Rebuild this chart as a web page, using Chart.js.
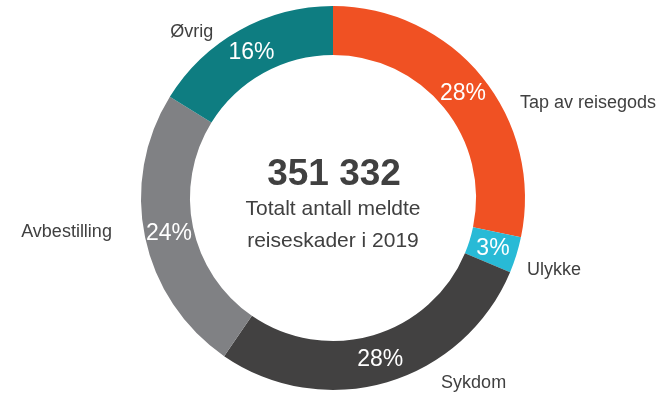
<!DOCTYPE html>
<html>
<head>
<meta charset="utf-8">
<script src="https://cdn.jsdelivr.net/npm/chart.js@4/dist/chart.umd.min.js"></script>
<style>
  html, body { margin: 0; padding: 0; background: #ffffff; }
  #wrap { width: 661px; height: 394px; position: relative; }
</style>
</head>
<body>
<div id="wrap"><canvas id="chart"></canvas></div>
<script>
// Reported travel claims 2019, share by cause (percent)
const categories = ['Tap av reisegods', 'Ulykke', 'Sykdom', 'Avbestilling', 'Øvrig'];
const shares = [28, 3, 28, 24, 16];
const totalClaims = '351 332';
const centerCaption = ['Totalt antall meldte', 'reiseskader i 2019'];

const sliceColors = ['#F05123', '#28BAD6', '#424141', '#808184', '#0E7D81'];
const FONT = '"Liberation Sans", Arial, sans-serif';
const TEXT = '#404040';

// Where each category name sits around the ring: angle clockwise from 12 o'clock,
// distance as a multiple of the outer radius, and text alignment.
const namePlacement = [
  { deg: 63.1,  k: 1.092, align: 'left' },
  { deg: 110.4, k: 1.078, align: 'left' },
  { deg: 149.7, k: 1.116, align: 'left' },
  { deg: 261.3, k: 1.165, align: 'right' },
  { deg: 319.6, k: 1.136, align: 'center' }
];

const ringLabels = {
  id: 'ringLabels',
  afterDatasetsDraw(chart) {
    const ctx = chart.ctx;
    const meta = chart.getDatasetMeta(0);
    const data = chart.data.datasets[0].data;
    ctx.save();
    ctx.textBaseline = 'middle';
    let cx = 0, cy = 0, outer = 0;
    meta.data.forEach((arc, i) => {
      const p = arc.getProps(['x', 'y', 'startAngle', 'endAngle', 'innerRadius', 'outerRadius'], true);
      cx = p.x; cy = p.y; outer = p.outerRadius;
      const mid = (p.startAngle + p.endAngle) / 2;
      const r = (p.innerRadius + p.outerRadius) / 2;
      ctx.fillStyle = '#ffffff';
      ctx.font = '23px ' + FONT;
      ctx.textAlign = 'center';
      ctx.fillText(data[i] + '%', p.x + Math.cos(mid) * r, p.y + Math.sin(mid) * r + 1);
    });
    // category names outside the ring
    ctx.fillStyle = TEXT;
    ctx.font = '18px ' + FONT;
    chart.data.labels.forEach((name, i) => {
      const pl = namePlacement[i];
      const a = pl.deg * Math.PI / 180;
      ctx.textAlign = pl.align;
      ctx.fillText(name, cx + Math.sin(a) * outer * pl.k, cy - Math.cos(a) * outer * pl.k);
    });
    // centre text
    ctx.textAlign = 'center';
    ctx.font = 'bold 37px ' + FONT;
    ctx.fillText(totalClaims, cx + 1, cy - 23);
    ctx.font = '21px ' + FONT;
    ctx.fillText(centerCaption[0], cx, cy + 11);
    ctx.fillText(centerCaption[1], cx, cy + 43);
    ctx.restore();
  }
};

new Chart(document.getElementById('chart'), {
  type: 'doughnut',
  data: {
    labels: categories,
    datasets: [{
      data: shares,
      backgroundColor: sliceColors,
      borderWidth: 0
    }]
  },
  options: {
    responsive: true,
    maintainAspectRatio: false,
    animation: false,
    cutout: '74.5%',
    layout: { padding: { top: 6, bottom: 4, left: 5, right: 0 } },
    plugins: {
      legend: { display: false },
      tooltip: { enabled: false }
    }
  },
  plugins: [ringLabels]
});
</script>
</body>
</html>
